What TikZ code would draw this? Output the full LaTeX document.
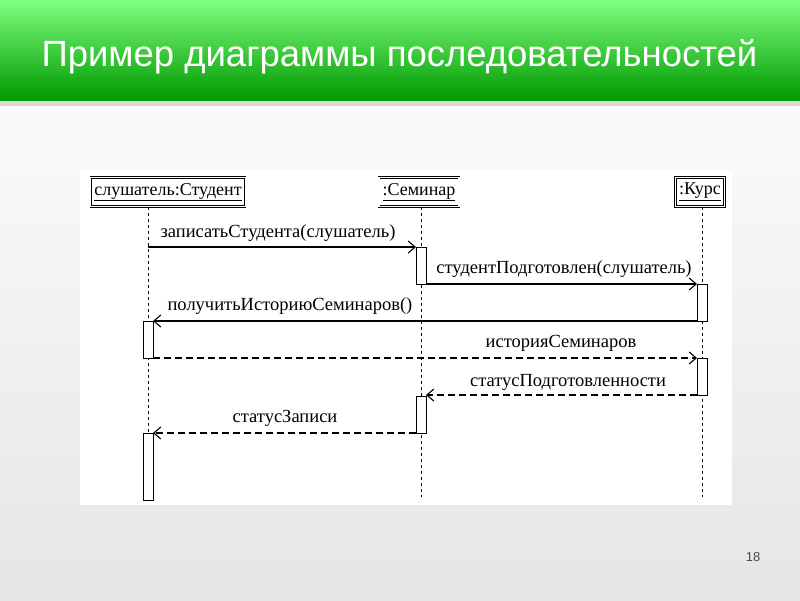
\documentclass[tikz,border=0pt]{standalone}
\usepackage{fontspec}
\setmainfont{Liberation Serif}
\newfontfamily\titlefont{Liberation Sans}
\usetikzlibrary{arrows.meta}
\begin{document}
\begin{tikzpicture}[x=1pt,y=-1pt,
  lbl/.style={font=\fontsize{18.5}{20}\selectfont, inner sep=0pt},
  hdr/.style={draw, double, double distance=1.2pt, line width=0.7pt, font=\fontsize{18}{20}\selectfont, minimum height=29pt, inner xsep=3.5pt},
  life/.style={dashed, line width=1pt},
  act/.style={draw, fill=white, line width=1pt},
  msg/.style={line width=1.1pt, -{Straight Barb[length=7pt,width=12pt]}},
  ret/.style={msg, dashed, dash pattern=on 7pt off 4pt}]
\useasboundingbox (0,0) rectangle (800,600);
\shade[top color=white, bottom color=black!10] (0,0) rectangle (800,600);
\fill[black!15] (0,100) rectangle (800,106);
\shade[top color=green!50!white, bottom color=green!60!black] (0,0) rectangle (800,100);
\node[anchor=west, text=white, font=\titlefont\fontsize{36.5}{40}\selectfont] (title) at (38,57) {Пример диаграммы последовательностей};
\node[font=\titlefont\fontsize{13}{15}\selectfont, text=black!70] (pg) at (753,557) {18};
\fill[white] (80,170) rectangle (732,505);
% headers
\node[hdr] (s) at (168,192) {\underline{слушатель:Студент}};
\node[hdr] (m) at (419,192) {\underline{:Семинар}};
\node[hdr] (k) at (700,192) {\underline{:Курс}};
\coordinate (sb) at (148,497);
\coordinate (mb) at (421,497);
\coordinate (kb) at (702,497);
\draw[life] (148,207) -- (sb);
\draw[life] (421,207) -- (mb);
\draw[life] (702,207) -- (kb);
% activations
\draw[act] (416,247) rectangle (426,284);
\draw[act] (697,284) rectangle (707,321);
\draw[act] (143,321) rectangle (153,358);
\draw[act] (697,358) rectangle (707,395);
\draw[act] (416,396) rectangle (426,433);
\draw[act] (143,433) rectangle (153,500);
% messages
\coordinate (a1) at (148,247); \coordinate (b1) at (416,247);
\draw[msg] (a1) -- (b1);
\node[lbl] (l1) at (278,233) {записатьСтудента(слушатель)};
\coordinate (a2) at (426,284); \coordinate (b2) at (697,284);
\draw[msg] (a2) -- (b2);
\node[lbl] (l2) at (564,269) {студентПодготовлен(слушатель)};
\coordinate (a3) at (697,321); \coordinate (b3) at (153,321);
\draw[msg] (a3) -- (b3);
\node[lbl] (l3) at (290,306) {получитьИсториюСеминаров()};
\coordinate (a4) at (153,358); \coordinate (b4) at (697,358);
\draw[ret] (a4) -- (b4);
\node[lbl] (l4) at (561,343) {историяСеминаров};
\coordinate (a5) at (697,395); \coordinate (b5) at (426,395);
\draw[ret] (a5) -- (b5);
\node[lbl] (l5) at (568,382) {статусПодготовленности};
\coordinate (a6) at (416,433); \coordinate (b6) at (153,433);
\draw[ret] (a6) -- (b6);
\node[lbl] (l6) at (285,418) {статусЗаписи};
\end{tikzpicture}
\end{document}
